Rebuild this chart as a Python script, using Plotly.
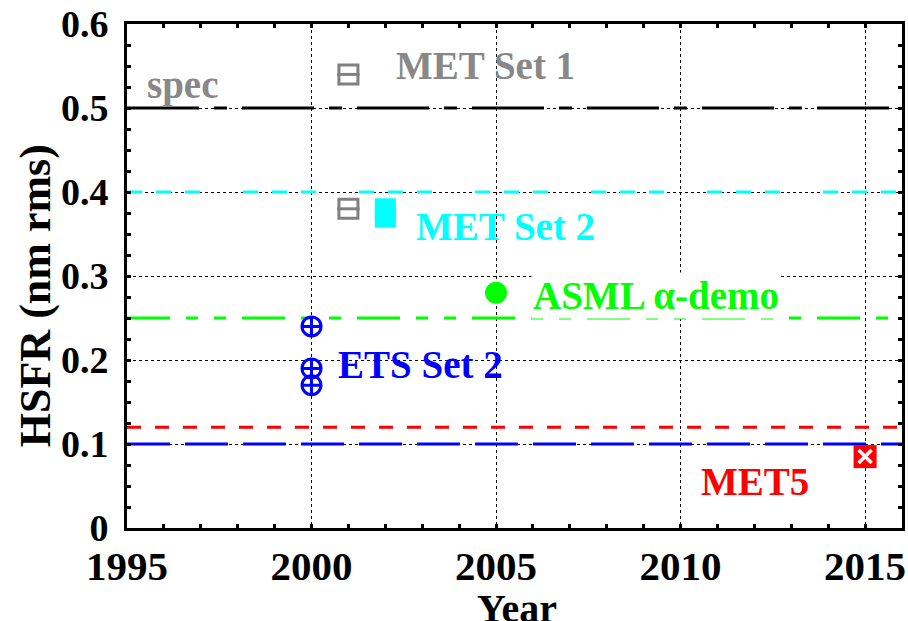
import plotly.graph_objects as go

# ---- data ----
met1_x = [2001, 2001]
met1_y = [0.54, 0.38]
met2_x = [2002, 2002]
met2_y = [0.37, 0.38]
asml_x = [2005]
asml_y = [0.28]
ets_x = [2000, 2000, 2000]
ets_y = [0.24, 0.19, 0.17]
met5_x = [2015]
met5_y = [0.085]

ref_levels = [0.5, 0.4, 0.25, 0.12, 0.1]
ref_colors = ["#000000", "#00FFFF", "#00FF00", "#FF0000", "#0000FF"]
ref_dashes = ["72px,15px,13px,15px", "15px,14px,15px,14px,15px,43px",
              "43px,16px,12px,16px,12px,16px", "14px,14px", "43px,15px"]

x_range = [1995, 2016]
y_range = [0, 0.6]
x_ticks = [1995, 2000, 2005, 2010, 2015]
y_ticks = [0, 0.1, 0.2, 0.3, 0.4, 0.5, 0.6]
y_ticktext = ["0", "0.1", "0.2", "0.3", "0.4", "0.5", "0.6"]

labels = ["spec", "MET Set 1", "MET Set 2", "ASML α-demo", "ETS Set 2", "MET5"]
label_x = [1995.49, 2004.72, 2005.26, 2009.33, 2002.96, 2012.03]
label_y = [0.5275, 0.5501, 0.3588, 0.2768, 0.1949, 0.0558]
label_colors = ["#888888", "#888888", "#00FFFF", "#00FF00", "#0000FF", "#FF0000"]
label_anchor = ["left", "center", "center", "center", "center", "center"]

FONT = "Liberation Serif"
GREY = "#808080"

fig = go.Figure()

for lvl, col, dsh in zip(ref_levels, ref_colors, ref_dashes):
    fig.add_trace(go.Scatter(x=x_range, y=[lvl, lvl], mode="lines",
                             line=dict(color=col, width=3, dash=dsh),
                             hoverinfo="skip", showlegend=False))

# MET Set 1 (grey boxed minus)
fig.add_trace(go.Scatter(x=met1_x, y=met1_y, mode="markers",
                         marker=dict(symbol="square-open", size=19, color=GREY,
                                     line=dict(color=GREY, width=3)),
                         showlegend=False))
fig.add_trace(go.Scatter(x=met1_x, y=met1_y, mode="markers",
                         marker=dict(symbol="line-ew", size=16, color=GREY,
                                     line=dict(color=GREY, width=3)),
                         showlegend=False))
# MET Set 2
fig.add_trace(go.Scatter(x=met2_x, y=met2_y, mode="markers",
                         marker=dict(symbol="square", size=21, color="#00FFFF",
                                     line=dict(width=0)),
                         showlegend=False))
# ASML
fig.add_trace(go.Scatter(x=asml_x, y=asml_y, mode="markers",
                         marker=dict(symbol="circle", size=22, color="#00FF00",
                                     line=dict(width=0)),
                         showlegend=False))
# ETS Set 2
fig.add_trace(go.Scatter(x=ets_x, y=ets_y, mode="markers",
                         marker=dict(symbol="circle-cross-open", size=19, color="#0000FF",
                                     line=dict(color="#0000FF", width=3)),
                         showlegend=False))
# MET5
fig.add_trace(go.Scatter(x=met5_x, y=met5_y, mode="markers",
                         marker=dict(symbol="square", size=23, color="#FF0000",
                                     line=dict(width=0)),
                         showlegend=False))
fig.add_trace(go.Scatter(x=met5_x, y=met5_y, mode="markers",
                         marker=dict(symbol="x-thin", size=13, color="#FFFFFF",
                                     line=dict(color="#FFFFFF", width=3.5)),
                         showlegend=False))

for t, lx, ly, c, a in zip(labels, label_x, label_y, label_colors, label_anchor):
    fig.add_annotation(x=lx, y=ly, xref="x", yref="y", text=t, showarrow=False,
                       xanchor=a, yanchor="middle",
                       bgcolor="#FFFFFF" if t.startswith("ASML") else None,
                       font=dict(family=FONT, size=39, color=c, weight="bold"))

fig.add_annotation(x=0.5026, y=-0.16, xref="paper", yref="paper", text="Year",
                   showarrow=False, xanchor="center", yanchor="middle",
                   font=dict(family=FONT, size=40, color="black", weight="bold"))
fig.add_annotation(x=-0.118, y=0.461, xref="paper", yref="paper", text="HSFR (nm rms)",
                   showarrow=False, xanchor="center", yanchor="middle", textangle=-90,
                   font=dict(family=FONT, size=44, color="black", weight="bold"))

axis_common = dict(showline=True, linewidth=3, linecolor="black", mirror="ticks",
                   ticks="inside", ticklen=4, tickwidth=3, tickcolor="black",
                   showgrid=True, gridcolor="black", gridwidth=1, griddash="dot",
                   zeroline=False)

fig.update_xaxes(range=x_range, tickvals=x_ticks, ticktext=[str(v) for v in x_ticks],
                 tickfont=dict(family=FONT, size=41, color="black", weight="bold"),
                 ticklabelstandoff=0,
                 minor=dict(ticks="inside", dtick=1, ticklen=4, tickwidth=3,
                            tickcolor="black", showgrid=False),
                 **axis_common)
fig.update_yaxes(range=y_range, tickvals=y_ticks, ticktext=y_ticktext,
                 tickfont=dict(family=FONT, size=38, color="black", weight="bold"),
                 ticklabelstandoff=8,
                 minor=dict(ticks="inside", dtick=0.025, ticklen=4, tickwidth=3,
                            tickcolor="black", showgrid=False),
                 **axis_common)

fig.update_layout(width=908, height=621, autosize=False,
                  margin=dict(l=127, r=3, t=23, b=93),
                  plot_bgcolor="white", paper_bgcolor="white",
                  showlegend=False)

fig.write_html("out.html")
